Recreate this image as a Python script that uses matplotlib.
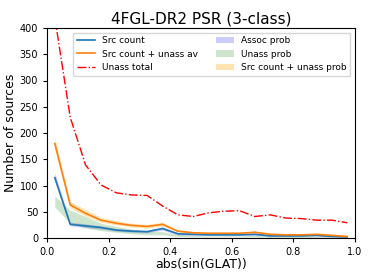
import numpy as np
import matplotlib.pyplot as plt

# bin centres in abs(sin(GLAT))
x = np.arange(0.025, 1.0, 0.05)

src_count = [115, 26, 23, 20, 15, 13, 12, 18, 8, 7, 6, 6, 6, 7, 4, 4, 4, 5, 3, 2]
src_unass_av = [180, 63, 47, 34, 28, 24, 22, 26, 13, 10, 9, 9, 9, 11, 7, 6, 6, 7, 5, 3]
unass_total = [420, 230, 139, 101, 86, 82, 81, 61, 44, 41, 48, 51, 52, 41, 44, 38, 37, 34, 34, 29]

assoc_lo = [108, 23, 20, 17, 13, 11, 10, 15, 6, 5, 5, 5, 5, 5, 3, 3, 3, 4, 2, 1]
assoc_hi = [124, 30, 27, 23, 18, 16, 15, 21, 10, 9, 8, 8, 8, 9, 6, 6, 6, 7, 5, 4]
unass_lo = [59, 28, 19, 14, 11, 8, 6, 6, 3, 2, 2, 2, 2, 2, 1, 1, 1, 1, 0, 0]
unass_hi = [80, 53, 41, 28, 22, 17, 13, 12, 7, 5, 4, 4, 4, 5, 3, 3, 3, 3, 2, 1]
sum_lo = [171, 57, 42, 30, 25, 21, 19, 23, 11, 8, 7, 7, 7, 9, 5, 4, 4, 5, 3, 1]
sum_hi = [190, 70, 54, 39, 33, 28, 26, 30, 15, 12, 11, 11, 11, 13, 9, 8, 8, 9, 7, 5]

fig = plt.figure(figsize=(3.74, 2.8), dpi=100)
ax = fig.add_axes([0.126, 0.15, 0.823, 0.75])

ax.plot(x, src_count, color='C0', lw=1.2, label='Src count')
ax.plot(x, src_unass_av, color='C1', lw=1.2, label='Src count + unass av')
ax.plot(x, unass_total, 'r-.', lw=1, label='Unass total')
ax.fill_between(x, assoc_lo, assoc_hi, color='b', alpha=0.2, lw=0, label='Assoc prob')
ax.fill_between(x, unass_lo, unass_hi, color='g', alpha=0.2, lw=0, label='Unass prob')
ax.fill_between(x, sum_lo, sum_hi, color='orange', alpha=0.3, lw=0,
                label='Src count + unass prob')

ax.set_xlim(0, 1)
ax.set_ylim(0, 400)
ax.tick_params(labelsize=7, length=3)
ax.set_xlabel('abs(sin(GLAT))', fontsize=9, labelpad=1)
ax.set_ylabel('Number of sources', fontsize=9, labelpad=2)
ax.set_title('4FGL-DR2 PSR (3-class)', fontsize=11, pad=3)
ax.legend(loc='upper right', ncol=2, fontsize=6.5, handlelength=2,
          columnspacing=2.0, labelspacing=0.5, borderpad=0.4)

fig.savefig('out.png', dpi=100)
